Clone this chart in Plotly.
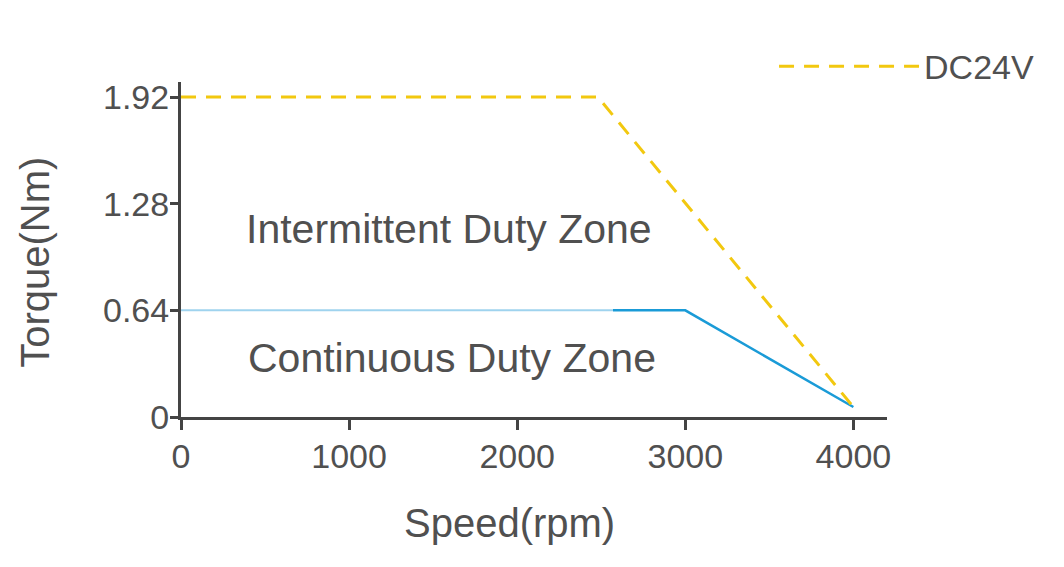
import plotly.graph_objects as go

# torque / speed curve
speed_dc24v = [0, 2480, 4000]
torque_dc24v = [1.92, 1.92, 0.06]

speed_cont_light = [0, 2570]
torque_cont_light = [0.64, 0.64]
speed_cont = [2570, 3000, 4000]
torque_cont = [0.64, 0.64, 0.06]

x_ticks = [0, 1000, 2000, 3000, 4000]
y_ticks = [0, 0.64, 1.28, 1.92]
y_tick_text = ['0', '0.64', '1.28', '1.92']

zone_labels = ['Intermittent Duty Zone', 'Continuous Duty Zone']
zone_x = [1595, 1610]
zone_y = [1.13, 0.355]

axis_col = '#444444'
text_col = '#505050'
font_name = 'Liberation Sans'

fig = go.Figure()

fig.add_trace(go.Scatter(x=speed_cont_light, y=torque_cont_light, mode='lines',
                         line=dict(color='#9fd3ee', width=2), showlegend=False,
                         hoverinfo='skip'))
fig.add_trace(go.Scatter(x=speed_cont, y=torque_cont, mode='lines',
                         line=dict(color='#1a9bd7', width=2.5), showlegend=False))
fig.add_trace(go.Scatter(x=speed_dc24v, y=torque_dc24v, mode='lines', name='DC24V',
                         line=dict(color='#f2c80f', width=3, dash='15px,10px')))

for label, lx, ly in zip(zone_labels, zone_x, zone_y):
    fig.add_annotation(x=lx, y=ly, text=label, showarrow=False,
                       font=dict(size=41, color=text_col))

# axis titles placed as paper annotations
fig.add_annotation(x=0.466, y=-0.316, xref='paper', yref='paper', text='Speed(rpm)',
                   xanchor='center', yanchor='middle',
                   showarrow=False, font=dict(size=40, color=text_col))
fig.add_annotation(x=-0.207, y=0.463, xref='paper', yref='paper', text='Torque(Nm)',
                   xanchor='center', yanchor='middle',
                   textangle=-90, showarrow=False, font=dict(size=40, color=text_col))

fig.update_layout(
    width=1064, height=567,
    margin=dict(l=173, r=185, t=74, b=158),
    plot_bgcolor='white', paper_bgcolor='white',
    font=dict(family=font_name, color=text_col),
    legend=dict(x=0.84, y=1.046, xanchor='left', yanchor='middle',
                font=dict(size=34, color=text_col), bgcolor='rgba(0,0,0,0)',
                itemwidth=140),
    xaxis=dict(range=[0, 4200], tickvals=x_ticks, showgrid=False, zeroline=False,
               showline=True, linecolor=axis_col, linewidth=3,
               ticks='outside', ticklen=10, tickwidth=3, tickcolor=axis_col,
               ticklabelstandoff=-3,
               tickfont=dict(size=34, color=text_col)),
    yaxis=dict(range=[0, 2.01], tickvals=y_ticks, ticktext=y_tick_text, showgrid=False,
               zeroline=False, showline=True, linecolor=axis_col, linewidth=3,
               ticks='outside', ticklen=8, tickwidth=3, tickcolor=axis_col,
               ticklabelstandoff=-6,
               tickfont=dict(size=34, color=text_col)),
)

fig.write_html('out.html')
